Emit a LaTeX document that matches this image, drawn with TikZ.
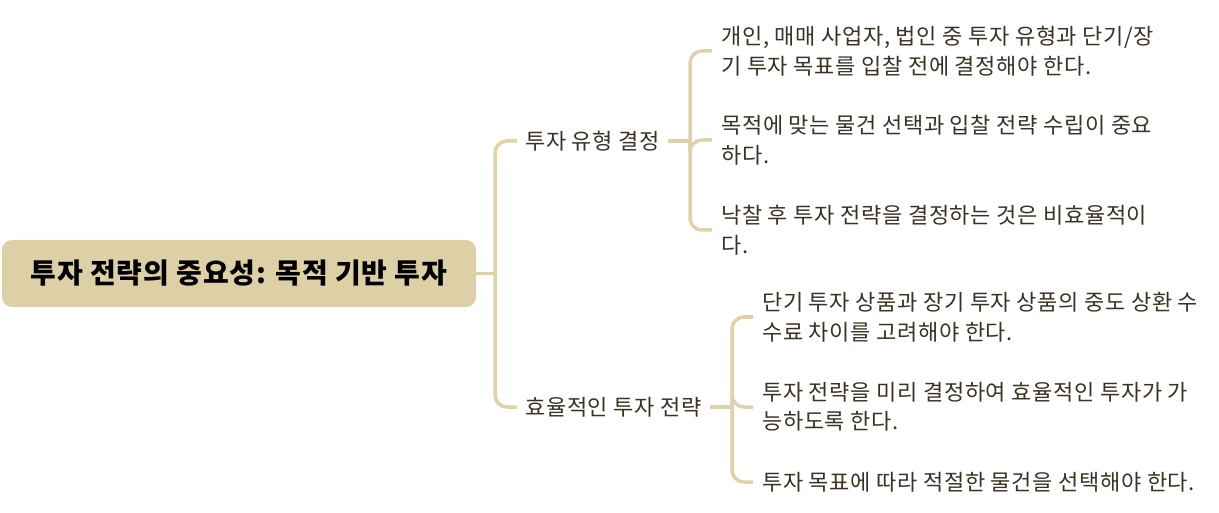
\documentclass[tikz,border=0pt]{standalone}
\usepackage{fontspec}
\setmainfont{Noto Sans CJK KR}
\definecolor{tan}{HTML}{DDCFA6}
\definecolor{linec}{HTML}{DFD2AA}
\definecolor{txt}{HTML}{3A3222}
\begin{document}
\begin{tikzpicture}[x=1pt,y=-1pt,
  conn/.style={draw=linec, line width=3.5pt, rounded corners=12pt},
  rootbox/.style={fill=tan, rounded corners=10pt, minimum width=474pt, minimum height=67pt,
    font=\fontsize{28}{32}\selectfont\bfseries\addfontfeatures{LetterSpace=3}, text=black, inner sep=0pt},
  lvone/.style={anchor=west, inner xsep=8pt, inner ysep=2pt, font=\fontsize{22}{29.5}\selectfont\addfontfeatures{LetterSpace=3}, text=txt},
  leaf/.style={anchor=west, inner xsep=9pt, inner ysep=2pt, align=left, font=\fontsize{22}{29.5}\selectfont\addfontfeatures{LetterSpace=3}, text=txt}]
\useasboundingbox (0,0) rectangle (1219,513);
\node[rootbox] (root) at (239,273.5) {투자 전략의 중요성: 목적 기반 투자};
\node[lvone] (la) at (517,141) {투자 유형 결정};
\node[lvone] (lb) at (517,407) {효율적인 투자 전략};
\node[leaf] (a1) at (712,51) {개인, 매매 사업자, 법인 중 투자 유형과 단기/장\\기 투자 목표를 입찰 전에 결정해야 한다.};
\node[leaf] (a2) at (712,140) {목적에 맞는 물건 선택과 입찰 전략 수립이 중요\\하다.};
\node[leaf] (a3) at (712,230) {낙찰 후 투자 전략을 결정하는 것은 비효율적이\\다.};
\node[leaf] (b1) at (753,317) {단기 투자 상품과 장기 투자 상품의 중도 상환 수\\수료 차이를 고려해야 한다.};
\node[leaf] (b2) at (753,407) {투자 전략을 미리 결정하여 효율적인 투자가 가\\능하도록 한다.};
\node[leaf] (b3) at (753,482) {투자 목표에 따라 적절한 물건을 선택해야 한다.};
\coordinate (j0) at (495,273.5);
\coordinate (ja) at (690,141);
\coordinate (jb) at (732,407);
\draw[conn] (root.east) -- (j0);
\draw[conn] (j0) |- (la.west);
\draw[conn] (j0) |- (lb.west);
\draw[conn] (la.east) -- (ja);
\draw[conn] (ja) |- (a1.west);
\draw[conn] (ja) |- (a2.west);
\draw[conn] (ja) |- (a3.west);
\draw[conn] (lb.east) -- (jb);
\draw[conn] (jb) |- (b1.west);
\draw[conn] (jb) |- (b2.west);
\draw[conn] (jb) |- (b3.west);
\end{tikzpicture}
\end{document}
